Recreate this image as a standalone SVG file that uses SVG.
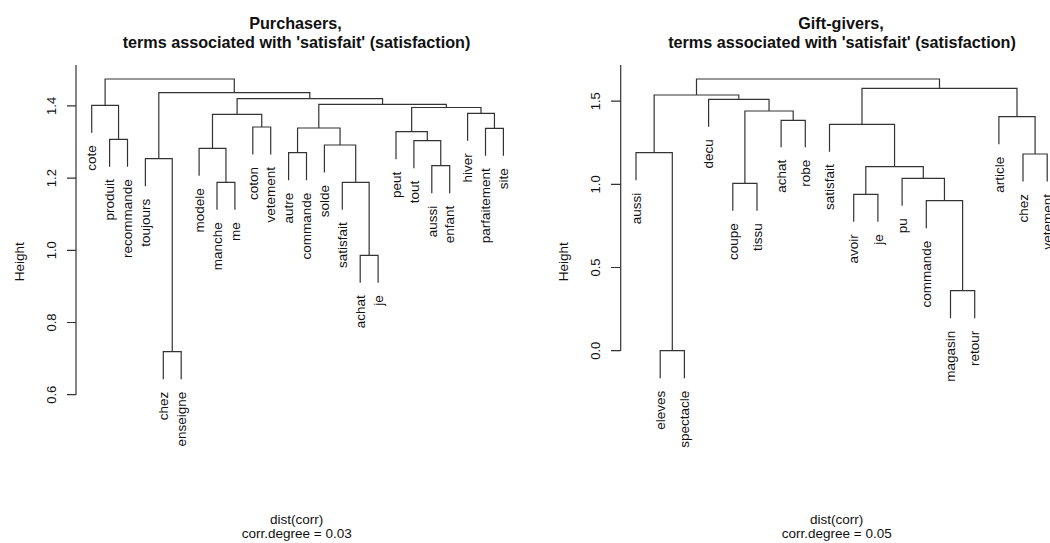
<svg xmlns="http://www.w3.org/2000/svg" width="1050" height="543" viewBox="0 0 1050 543">
<style>
text{font-family:"Liberation Sans",Arial,sans-serif;fill:#111}
.t{font-size:16.2px;font-weight:bold;text-anchor:middle}
.s{font-size:13.5px;text-anchor:middle}
.lab{font-size:13.5px;text-anchor:end}
.tk{font-size:13px;text-anchor:middle}
.yl{font-size:13.5px;text-anchor:middle}
.ln{fill:none;stroke:#333;stroke-width:1.2}
</style>
<rect width="1050" height="543" fill="#fff"/>
<g id="titles">
<text class="t" x="295.5" y="29">Purchasers,</text>
<text class="t" x="296.5" y="47.5">terms associated with 'satisfait' (satisfaction)</text>
<text class="t" x="841" y="29">Gift-givers,</text>
<text class="t" x="842" y="47.5">terms associated with 'satisfait' (satisfaction)</text>
<text class="s" x="296.7" y="523.5">dist(corr)</text>
<text class="s" x="296.7" y="537.5">corr.degree = 0.03</text>
<text class="s" x="836.7" y="523.5">dist(corr)</text>
<text class="s" x="836.7" y="537.5">corr.degree = 0.05</text>
</g>
<g id="axis-left">
<path class="ln" d="M76 65V394.7M67 394.7H76M67 322.5H76M67 250.3H76M67 178.1H76M67 105.9H76"/>
<text class="tk" transform="translate(55.5,394.7) rotate(-90)">0.6</text>
<text class="tk" transform="translate(55.5,322.5) rotate(-90)">0.8</text>
<text class="tk" transform="translate(55.5,250.3) rotate(-90)">1.0</text>
<text class="tk" transform="translate(55.5,178.1) rotate(-90)">1.2</text>
<text class="tk" transform="translate(55.5,105.9) rotate(-90)">1.4</text>
<text class="yl" transform="translate(23.5,261.7) rotate(-90)">Height</text>
</g>
<g id="axis-right">
<path class="ln" d="M620.7 65V350.7M611 350.7H620.7M611 267.5H620.7M611 184.4H620.7M611 101.2H620.7"/>
<text class="tk" transform="translate(600.2,350.7) rotate(-90)">0.0</text>
<text class="tk" transform="translate(600.2,267.5) rotate(-90)">0.5</text>
<text class="tk" transform="translate(600.2,184.4) rotate(-90)">1.0</text>
<text class="tk" transform="translate(600.2,101.2) rotate(-90)">1.5</text>
<text class="yl" transform="translate(568,261.7) rotate(-90)">Height</text>
</g>
<g id="connectors">
<path class="ln" d="M109.6 166.8V139.3H127.5V166.8
M91.7 132.8V105.3H118.55V139.3
M163.3 379.2V351.7H181.2V379.2
M145.4 186.2V158.7H172.25V351.7
M217 209.8V182.3H234.9V209.8
M199.1 175.8V148.3H225.95V182.3
M252.8 154.5V127H270.7V154.5
M212.5 148.3V114.3H261.75V127
M288.6 180.2V152.7H306.5V180.2
M360.2 282.8V255.3H378.1V282.8
M342.3 209.8V182.3H369.15V255.3
M324.4 172.5V145H355.7V182.3
M297.55 152.7V128H340.05V145
M431.8 193.2V165.7H449.7V193.2
M413.9 168.2V140.7H440.75V165.7
M396 159.2V131.7H427.3V140.7
M485.5 155.8V128.3H503.4V155.8
M467.6 140.8V113.3H494.45V128.3
M411.65 131.7V107.5H481V113.3
M318.8 128V104.3H446.3V107.5
M237.1 114.3V98.7H382.55V104.3
M158.8 158.7V92.7H309.8V98.7
M105.1 105.3V79H234.3V92.7"/>
<path class="ln" d="M660.2 378.2V350.7H684.4V378.2
M636 180.2V152.7H672.3V350.7
M732.8 210.8V183.3H757V210.8
M781.1 147.3V120.3H805.3V147.3
M744.9 183.3V111H793.2V120.3
M708.6 126.8V99.3H769.05V111
M654.15 152.7V95H738.8V99.3
M853.7 221.8V194.3H877.9V221.8
M950.5 318.2V290.7H974.7V318.2
M926.3 228.2V200.7H962.6V290.7
M902.1 205.8V178.3H944.45V200.7
M865.8 194.3V166.7H923.3V178.3
M829.5 151.8V124.3H894.55V166.7
M1023 181.5V154H1047.2V181.5
M998.9 144.2V116.7H1035.1V154
M862 124.3V88.3H1017V116.7
M696.5 95V79H939.5V88.3"/>
</g>
<g id="leaves-left">
<g id="L-cote"><text class="lab" transform="translate(96.4,145.3) rotate(-90)">cote</text></g>
<g id="L-produit"><text class="lab" transform="translate(114.3,179.3) rotate(-90)">produit</text></g>
<g id="L-recommande"><text class="lab" transform="translate(132.2,179.3) rotate(-90)">recommande</text></g>
<g id="L-toujours"><text class="lab" transform="translate(150.1,198.7) rotate(-90)">toujours</text></g>
<g id="L-chez"><text class="lab" transform="translate(168,391.7) rotate(-90)">chez</text></g>
<g id="L-enseigne"><text class="lab" transform="translate(185.9,391.7) rotate(-90)">enseigne</text></g>
<g id="L-modele"><text class="lab" transform="translate(203.8,188.3) rotate(-90)">modele</text></g>
<g id="L-manche"><text class="lab" transform="translate(221.7,222.3) rotate(-90)">manche</text></g>
<g id="L-me"><text class="lab" transform="translate(239.6,222.3) rotate(-90)">me</text></g>
<g id="L-coton"><text class="lab" transform="translate(257.5,167) rotate(-90)">coton</text></g>
<g id="L-vetement"><text class="lab" transform="translate(275.4,167) rotate(-90)">vetement</text></g>
<g id="L-autre"><text class="lab" transform="translate(293.3,192.7) rotate(-90)">autre</text></g>
<g id="L-commande"><text class="lab" transform="translate(311.2,192.7) rotate(-90)">commande</text></g>
<g id="L-solde"><text class="lab" transform="translate(329.1,185) rotate(-90)">solde</text></g>
<g id="L-satisfait"><text class="lab" transform="translate(347,222.3) rotate(-90)">satisfait</text></g>
<g id="L-achat"><text class="lab" transform="translate(364.9,295.3) rotate(-90)">achat</text></g>
<g id="L-je"><text class="lab" transform="translate(382.8,295.3) rotate(-90)">je</text></g>
<g id="L-peut"><text class="lab" transform="translate(400.7,171.7) rotate(-90)">peut</text></g>
<g id="L-tout"><text class="lab" transform="translate(418.6,180.7) rotate(-90)">tout</text></g>
<g id="L-aussi"><text class="lab" transform="translate(436.5,205.7) rotate(-90)">aussi</text></g>
<g id="L-enfant"><text class="lab" transform="translate(454.4,205.7) rotate(-90)">enfant</text></g>
<g id="L-hiver"><text class="lab" transform="translate(472.3,153.3) rotate(-90)">hiver</text></g>
<g id="L-parfaitement"><text class="lab" transform="translate(490.2,168.3) rotate(-90)">parfaitement</text></g>
<g id="L-site"><text class="lab" transform="translate(508.1,168.3) rotate(-90)">site</text></g>
</g>
<g id="leaves-right">
<g id="R-aussi"><text class="lab" transform="translate(640.7,192.7) rotate(-90)">aussi</text></g>
<g id="R-eleves"><text class="lab" transform="translate(664.9,390.7) rotate(-90)">eleves</text></g>
<g id="R-spectacle"><text class="lab" transform="translate(689.1,390.7) rotate(-90)">spectacle</text></g>
<g id="R-decu"><text class="lab" transform="translate(713.3,139.3) rotate(-90)">decu</text></g>
<g id="R-coupe"><text class="lab" transform="translate(737.5,223.3) rotate(-90)">coupe</text></g>
<g id="R-tissu"><text class="lab" transform="translate(761.7,223.3) rotate(-90)">tissu</text></g>
<g id="R-achat"><text class="lab" transform="translate(785.8,159.7) rotate(-90)">achat</text></g>
<g id="R-robe"><text class="lab" transform="translate(810,159.7) rotate(-90)">robe</text></g>
<g id="R-satisfait"><text class="lab" transform="translate(834.2,164.3) rotate(-90)">satisfait</text></g>
<g id="R-avoir"><text class="lab" transform="translate(858.4,234.3) rotate(-90)">avoir</text></g>
<g id="R-je"><text class="lab" transform="translate(882.6,234.3) rotate(-90)">je</text></g>
<g id="R-pu"><text class="lab" transform="translate(906.8,218.3) rotate(-90)">pu</text></g>
<g id="R-commande"><text class="lab" transform="translate(931,240.7) rotate(-90)">commande</text></g>
<g id="R-magasin"><text class="lab" transform="translate(955.2,330.7) rotate(-90)">magasin</text></g>
<g id="R-retour"><text class="lab" transform="translate(979.4,330.7) rotate(-90)">retour</text></g>
<g id="R-article"><text class="lab" transform="translate(1003.6,156.7) rotate(-90)">article</text></g>
<g id="R-chez"><text class="lab" transform="translate(1027.7,194) rotate(-90)">chez</text></g>
<g id="R-vetement"><text class="lab" transform="translate(1051.9,194) rotate(-90)">vetement</text></g>
</g>
</svg>
